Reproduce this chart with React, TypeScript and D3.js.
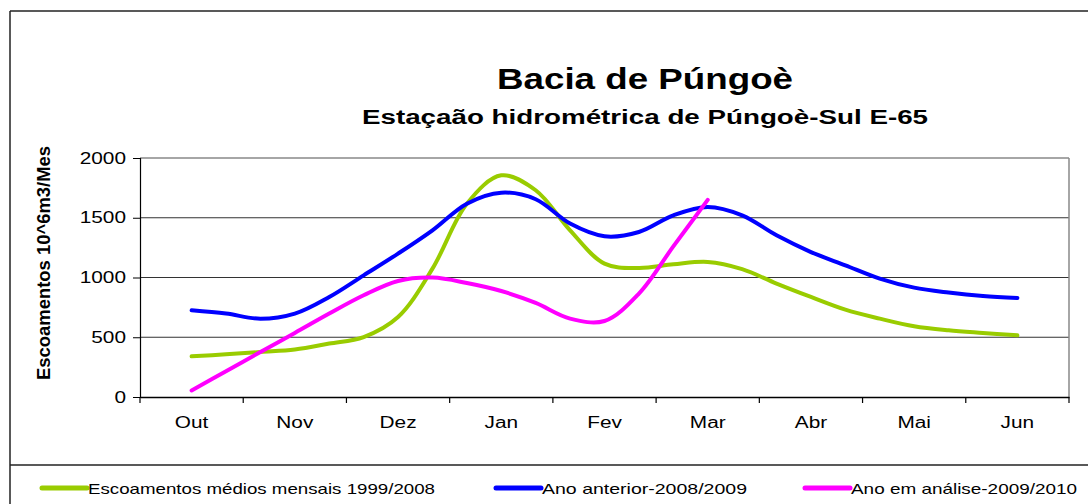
import React, { useEffect, useRef } from "react";
import * as d3 from "d3";

// months on the x axis (Oct..Jun)
const months = ["Out", "Nov", "Dez", "Jan", "Fev", "Mar", "Abr", "Mai", "Jun"];
const yTicks = [0, 500, 1000, 1500, 2000];

// values read per dekad, from Out to Jun (3 per month)
const mediaMensal = [
  340, 357, 377, 397, 447, 502, 670, 1074, 1618, 1855, 1730, 1395, 1116, 1080,
  1110, 1130, 1070, 949, 837, 731, 656, 592, 558, 536, 516,
];
const anoAnterior = [
  725, 698, 655, 698, 837, 1018, 1200, 1395, 1618, 1710, 1655, 1451, 1345,
  1381, 1520, 1590, 1520, 1353, 1213, 1102, 991, 915, 874, 845, 829,
];
const anoAnalise = [
  55, 215, 377, 536, 698, 851, 971, 999, 954, 887, 787, 656, 636, 865, 1260,
  1650,
];

const series = [
  { name: "Escoamentos médios mensais 1999/2008", color: "#99cc00", values: mediaMensal },
  { name: "Ano anterior-2008/2009", color: "#0000ff", values: anoAnterior },
  { name: "Ano em análise-2009/2010", color: "#ff00ff", values: anoAnalise },
];

const W = 1088;
const H = 504;
const margin = { top: 158, right: 19, bottom: 107, left: 140 };
const STRETCH = 1.3; // the picture's text is widened horizontally

const App = () => {
  const svgRef = useRef<SVGSVGElement>(null);

  useEffect(() => {
    const svg = d3.select(svgRef.current);
    svg.selectAll("*").remove();

    const font = "'Liberation Sans', Arial, sans-serif";
    const plotW = W - margin.left - margin.right;
    const plotH = H - margin.top - margin.bottom;

    // widen text glyphs like the original
    const widen = (sel: any) =>
      sel.each(function (this: SVGTextElement) {
        const len = this.getComputedTextLength();
        d3.select(this).attr("textLength", len * STRETCH).attr("lengthAdjust", "spacingAndGlyphs");
      });

    const x = d3.scaleBand().domain(months).range([0, plotW]).padding(0);
    const y = d3.scaleLinear().domain([0, 2000]).range([plotH, 0]);
    const bw = x.bandwidth();
    const xd = d3
      .scaleLinear()
      .domain([0, (months.length - 1) * 3])
      .range([x("Out")! + bw / 2, x("Jun")! + bw / 2]);

    // outer frame
    svg.append("line").attr("x1", 10).attr("x2", W).attr("y1", 11).attr("y2", 11)
      .attr("stroke", "#222").attr("stroke-width", 1.5);
    svg.append("line").attr("x1", 10).attr("x2", 10).attr("y1", 11).attr("y2", H)
      .attr("stroke", "#222").attr("stroke-width", 1.5);
    svg.append("line").attr("x1", 10).attr("x2", W).attr("y1", 465).attr("y2", 465)
      .attr("stroke", "#222").attr("stroke-width", 1.5);

    // titles
    svg.append("text").attr("x", 645).attr("y", 89).attr("text-anchor", "middle")
      .attr("font-family", font).attr("font-weight", "bold").attr("font-size", 29)
      .attr("textLength", 296).attr("lengthAdjust", "spacingAndGlyphs")
      .text("Bacia de Púngoè");
    svg.append("text").attr("x", 645).attr("y", 124).attr("text-anchor", "middle")
      .attr("font-family", font).attr("font-weight", "bold").attr("font-size", 20)
      .attr("textLength", 566).attr("lengthAdjust", "spacingAndGlyphs")
      .text("Estaçaão hidrométrica de Púngoè-Sul E-65");

    const g = svg.append("g").attr("transform", `translate(${margin.left},${margin.top})`);

    // grid lines
    g.selectAll(".grid")
      .data(yTicks.filter((d) => d > 0 && d < 2000))
      .enter()
      .append("line")
      .attr("x1", 0).attr("x2", plotW)
      .attr("y1", (d) => y(d)).attr("y2", (d) => y(d))
      .attr("stroke", "#333").attr("stroke-width", 1.2);

    // plot frame (top/right gray)
    g.append("line").attr("x1", 0).attr("x2", plotW).attr("y1", 0).attr("y2", 0)
      .attr("stroke", "#888").attr("stroke-width", 1.5);
    g.append("line").attr("x1", plotW).attr("x2", plotW).attr("y1", 0).attr("y2", plotH)
      .attr("stroke", "#888").attr("stroke-width", 1.5);

    // y axis
    const yAxis = g.append("g").call(
      d3.axisLeft(y).tickValues(yTicks).tickSize(7).tickPadding(7).tickFormat(d3.format("d"))
    );
    yAxis.select(".domain").attr("stroke", "#000").attr("stroke-width", 1.2);
    yAxis.selectAll("line").attr("stroke", "#000");
    yAxis.selectAll("text").attr("font-family", font).attr("font-size", 16).attr("fill", "#000");
    widen(yAxis.selectAll("text"));

    // x axis
    const xAxis = g.append("g").attr("transform", `translate(0,${plotH})`).call(
      d3.axisBottom(x).tickSize(0).tickPadding(20)
    );
    xAxis.select(".domain").attr("stroke", "#000").attr("stroke-width", 1.5);
    xAxis.selectAll("text").attr("font-family", font).attr("font-size", 16).attr("fill", "#000");
    widen(xAxis.selectAll("text"));
    g.selectAll(".xtick")
      .data(d3.range(months.length + 1))
      .enter()
      .append("line")
      .attr("x1", (i) => i * bw).attr("x2", (i) => i * bw)
      .attr("y1", plotH).attr("y2", plotH + 6)
      .attr("stroke", "#000").attr("stroke-width", 1.2);

    // y label
    svg.append("text")
      .attr("transform", `translate(50,263) scale(${STRETCH},1) rotate(-90)`)
      .attr("text-anchor", "middle")
      .attr("font-family", font).attr("font-weight", "bold").attr("font-size", 14)
      .attr("textLength", 234).attr("lengthAdjust", "spacingAndGlyphs")
      .text("Escoamentos 10^6m3/Mes");

    // lines
    const line = d3
      .line<number>()
      .x((_, i) => xd(i))
      .y((d) => y(d))
      .curve(d3.curveCatmullRom.alpha(0.5));

    series.forEach((s) => {
      g.append("path")
        .datum(s.values)
        .attr("d", line)
        .attr("fill", "none")
        .attr("stroke", s.color)
        .attr("stroke-width", 4)
        .attr("stroke-linecap", "round")
        .attr("stroke-linejoin", "round");
    });

    // legend
    const legendPos = [
      { x: 42, len: 347 },
      { x: 496, len: 205 },
      { x: 805, len: 226 },
    ];
    series.forEach((s, i) => {
      const p = legendPos[i];
      svg.append("line")
        .attr("x1", p.x).attr("x2", p.x + 45).attr("y1", 488).attr("y2", 488)
        .attr("stroke", s.color).attr("stroke-width", 5).attr("stroke-linecap", "round");
      svg.append("text")
        .attr("x", p.x + 46).attr("y", 494)
        .attr("font-family", font).attr("font-size", 15)
        .attr("textLength", p.len).attr("lengthAdjust", "spacingAndGlyphs")
        .text(s.name);
    });
  }, []);

  return (
    <svg
      ref={svgRef}
      width={W}
      height={H}
      style={{ position: "absolute", left: 0, top: 0, background: "#fff" }}
    ></svg>
  );
};

export default App;
